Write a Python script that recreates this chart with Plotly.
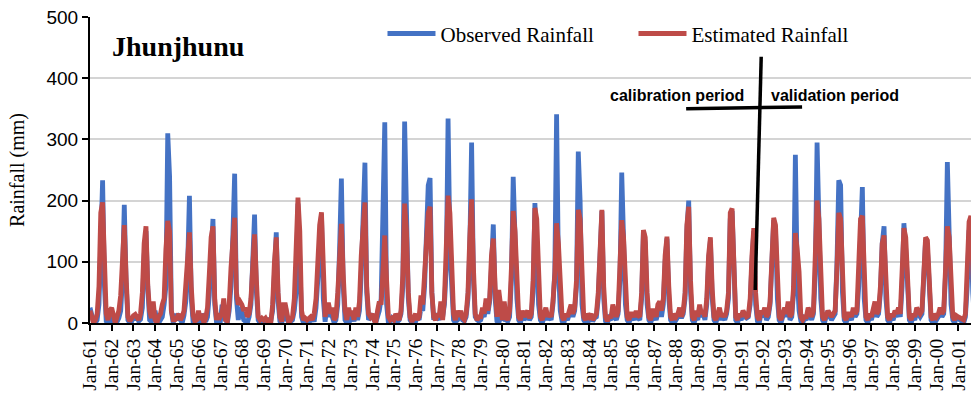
import pandas as pd
import plotly.graph_objects as go

# Monthly observed rainfall (mm), one row per year Jan..Dec, 1961-2001
observed = [
    25, 8, 2, 0, 5, 30, 150, 233, 60, 3, 0, 5,        # 1961
    3, 10, 0, 2, 8, 20, 70, 193, 65, 5, 0, 2,         # 1962
    10, 5, 12, 3, 6, 25, 110, 150, 55, 5, 2, 8,       # 1963
    20, 3, 0, 5, 10, 30, 60, 310, 240, 20, 0, 15,     # 1964
    5, 10, 3, 0, 12, 35, 90, 208, 40, 2, 0, 6,        # 1965
    3, 0, 15, 5, 2, 10, 45, 110, 170, 30, 0, 2,       # 1966
    0, 30, 10, 5, 0, 20, 60, 140, 244, 40, 5, 25,     # 1967
    20, 5, 3, 0, 10, 30, 100, 177, 50, 5, 0, 3,       # 1968
    2, 5, 0, 8, 3, 20, 80, 148, 35, 3, 0, 10,         # 1969
    28, 5, 0, 2, 5, 20, 50, 195, 120, 10, 0, 5,       # 1970
    3, 0, 5, 10, 2, 25, 70, 120, 178, 40, 2, 25,      # 1971
    10, 20, 8, 0, 5, 30, 120, 236, 60, 5, 0, 10,      # 1972
    5, 10, 3, 15, 5, 20, 80, 150, 262, 50, 5, 10,     # 1973
    15, 5, 0, 10, 20, 40, 150, 328, 30, 0, 2, 8,      # 1974
    5, 10, 2, 5, 15, 60, 329, 160, 40, 5, 0, 3,       # 1975
    2, 10, 5, 25, 20, 60, 130, 225, 237, 50, 5, 15,   # 1976
    10, 5, 20, 10, 30, 90, 334, 127, 60, 5, 0, 15,    # 1977
    8, 12, 5, 3, 10, 40, 120, 295, 70, 10, 5, 3,      # 1978
    5, 15, 10, 30, 15, 35, 90, 161, 40, 3, 0, 10,     # 1979
    8, 20, 5, 3, 10, 70, 239, 110, 40, 5, 0, 15,      # 1980
    5, 10, 15, 5, 10, 50, 196, 130, 30, 5, 0, 8,      # 1981
    20, 5, 10, 5, 30, 84, 341, 90, 20, 3, 0, 10,      # 1982
    5, 15, 20, 10, 20, 60, 280, 200, 30, 5, 0, 10,    # 1983
    5, 10, 3, 8, 10, 40, 110, 183, 40, 3, 0, 8,       # 1984
    5, 20, 10, 5, 15, 70, 246, 90, 30, 5, 0, 10,      # 1985
    10, 5, 15, 8, 5, 40, 150, 130, 30, 5, 0, 10,      # 1986
    12, 5, 20, 30, 10, 30, 100, 138, 40, 5, 0, 10,    # 1987
    5, 10, 20, 8, 15, 40, 150, 200, 50, 5, 0, 10,     # 1988
    5, 25, 10, 15, 5, 30, 100, 135, 40, 5, 0, 10,     # 1989
    20, 5, 10, 5, 15, 40, 170, 183, 60, 5, 0, 10,     # 1990
    5, 15, 10, 8, 10, 30, 100, 150, 30, 3, 0, 15,     # 1991
    10, 20, 5, 10, 30, 90, 168, 150, 40, 5, 0, 10,    # 1992
    20, 10, 30, 5, 10, 50, 275, 75, 20, 3, 0, 8,      # 1993
    5, 20, 10, 5, 15, 80, 295, 180, 40, 5, 0, 10,     # 1994
    20, 10, 5, 10, 15, 100, 233, 225, 50, 5, 0, 10,   # 1995
    10, 5, 20, 10, 15, 60, 172, 222, 40, 5, 0, 10,    # 1996
    5, 15, 30, 10, 15, 50, 130, 158, 40, 5, 0, 10,    # 1997
    5, 15, 10, 20, 10, 60, 163, 120, 50, 5, 0, 10,    # 1998
    5, 20, 15, 10, 15, 80, 135, 120, 40, 5, 0, 10,    # 1999
    5, 10, 20, 10, 15, 80, 263, 100, 30, 5, 0, 10,    # 2000
    8, 5, 3, 0, 10, 60, 150, 160, 50, 5, 0, 5,        # 2001
]

# Monthly estimated rainfall (mm)
estimated = [
    20, 10, 0, 5, 15, 60, 180, 197, 70, 15, 5, 20,    # 1961
    25, 5, 0, 10, 20, 45, 110, 160, 75, 10, 3, 8,     # 1962
    12, 14, 10, 5, 15, 50, 130, 158, 60, 20, 8, 35,   # 1963
    5, 0, 10, 15, 30, 40, 120, 167, 150, 20, 5, 5,    # 1964
    8, 15, 5, 10, 20, 60, 120, 148, 60, 12, 3, 5,     # 1965
    20, 5, 15, 0, 8, 25, 80, 140, 158, 40, 5, 15,     # 1966
    10, 15, 40, 5, 3, 30, 90, 150, 172, 50, 30, 35,   # 1967
    30, 20, 25, 10, 15, 40, 110, 145, 70, 10, 5, 8,   # 1968
    5, 8, 3, 5, 0, 30, 100, 140, 50, 10, 2, 30,       # 1969
    30, 10, 0, 5, 10, 40, 120, 205, 150, 20, 5, 8,    # 1970
    5, 8, 10, 5, 15, 40, 100, 160, 181, 60, 10, 30,   # 1971
    30, 15, 25, 5, 10, 50, 130, 162, 80, 20, 5, 25,   # 1972
    12, 20, 5, 25, 10, 35, 110, 170, 197, 60, 15, 10, # 1973
    15, 5, 0, 20, 35, 30, 90, 143, 70, 10, 5, 8,      # 1974
    5, 15, 10, 5, 20, 80, 195, 150, 50, 10, 2, 8,     # 1975
    15, 5, 10, 45, 30, 80, 150, 180, 190, 50, 10, 5,  # 1976
    15, 10, 35, 5, 40, 120, 208, 180, 80, 15, 5, 20,  # 1977
    10, 20, 8, 5, 15, 50, 140, 202, 90, 15, 5, 10,    # 1978
    10, 25, 15, 40, 20, 40, 110, 138, 60, 10, 54, 20, # 1979
    5, 35, 10, 5, 20, 90, 183, 150, 60, 10, 5, 20,    # 1980
    10, 15, 20, 8, 15, 70, 188, 170, 50, 10, 5, 15,   # 1981
    25, 10, 15, 10, 35, 80, 163, 130, 40, 10, 5, 15,  # 1982
    10, 25, 30, 15, 25, 70, 185, 170, 60, 10, 5, 15,  # 1983
    10, 15, 5, 10, 15, 50, 130, 185, 60, 10, 3, 12,   # 1984
    8, 30, 20, 10, 20, 80, 168, 140, 50, 10, 5, 15,   # 1985
    15, 10, 20, 12, 10, 50, 152, 140, 50, 10, 5, 20,  # 1986
    20, 10, 30, 35, 20, 40, 110, 141, 60, 10, 5, 15,  # 1987
    10, 15, 25, 10, 20, 50, 160, 190, 70, 10, 5, 20,  # 1988
    10, 30, 15, 20, 10, 40, 110, 140, 55, 10, 5, 15,  # 1989
    25, 10, 15, 10, 20, 50, 180, 187, 80, 10, 5, 15,  # 1990
    10, 20, 15, 10, 12, 40, 110, 155, 50, 10, 5, 20,  # 1991
    15, 25, 10, 15, 35, 100, 172, 160, 50, 10, 5, 15, # 1992
    25, 15, 35, 10, 15, 60, 147, 120, 84, 10, 5, 10,  # 1993
    10, 25, 15, 10, 20, 90, 200, 170, 60, 10, 5, 15,  # 1994
    20, 15, 10, 15, 20, 90, 180, 170, 60, 10, 5, 15,  # 1995
    15, 10, 25, 15, 20, 80, 170, 175, 60, 10, 5, 15,  # 1996
    10, 20, 35, 15, 20, 60, 130, 143, 50, 10, 5, 15,  # 1997
    10, 20, 15, 25, 15, 70, 155, 140, 50, 10, 5, 15,  # 1998
    10, 25, 20, 15, 20, 100, 140, 135, 50, 10, 5, 15, # 1999
    10, 15, 25, 15, 20, 90, 158, 140, 50, 10, 5, 12,  # 2000
    10, 8, 5, 5, 15, 80, 165, 175, 60, 10, 5, 8,      # 2001
]

months = pd.date_range("1961-01-01", periods=len(observed), freq="MS")

y_ticks = [0, 100, 200, 300, 400, 500]

fig = go.Figure()
fig.add_trace(go.Scatter(x=months, y=observed, mode="lines", name="Observed Rainfall",
                         line=dict(color="#4472C4", width=4.8)))
fig.add_trace(go.Scatter(x=months, y=estimated, mode="lines", name="Estimated Rainfall",
                         line=dict(color="#BE4B48", width=4.8)))

serif = "Liberation Serif, Times New Roman, serif"
sans = "Liberation Sans, Arial, sans-serif"

fig.update_layout(
    width=971, height=398,
    margin=dict(l=90, r=0, t=17, b=75, autoexpand=False),
    paper_bgcolor="white", plot_bgcolor="white",
    showlegend=True,
    legend=dict(orientation="h", x=0.332, y=0.945, xanchor="left", yanchor="middle",
                font=dict(family=serif, size=21, color="#000"),
                bgcolor="rgba(0,0,0,0)", entrywidth=188, entrywidthmode="pixels",
                itemwidth=48, tracegroupgap=0),
    xaxis=dict(range=["1961-01-01", "2001-08-03"], dtick="M12", tick0="1961-01-01",
               tickformat="%b-%y", tickangle=-90, showgrid=False, automargin=False,
               showline=True, linecolor="#000", linewidth=2,
               ticks="outside", ticklen=6, tickcolor="#000", tickwidth=1.5,
               tickfont=dict(family=serif, size=19.5, color="#000")),
    yaxis=dict(range=[0, 500], tickvals=y_ticks, showgrid=True, gridcolor="#D4D4D4", gridwidth=1.5,
               zeroline=False, showline=True, linecolor="#000", linewidth=2, automargin=False,
               ticks="outside", ticklen=6, tickcolor="#000", tickwidth=1.5,
               tickfont=dict(family=sans, size=19, color="#000"),
               title=dict(text="Rainfall (mm)", font=dict(family=serif, size=20, color="#000"),
                          standoff=16)),
)

fig.add_annotation(text="<b>Jhunjhunu</b>", xref="paper", yref="paper", x=0.1, y=0.905,
                   xanchor="center", yanchor="middle",
                   showarrow=False, font=dict(family=serif, size=28, color="#000"))
fig.add_annotation(text="<b>calibration period</b>", xref="paper", yref="paper", x=0.666, y=0.745,
                   xanchor="center", yanchor="middle",
                   showarrow=False, font=dict(family=sans, size=16, color="#000"))
fig.add_annotation(text="<b>validation period</b>", xref="paper", yref="paper", x=0.846, y=0.745,
                   xanchor="center", yanchor="middle",
                   showarrow=False, font=dict(family=sans, size=16, color="#000"))

# divider cross between calibration and validation periods
fig.add_shape(type="line", xref="x", yref="y", x0="1991-12-04", y0=435, x1="1991-08-25", y1=54,
              line=dict(color="#000", width=3.5))
fig.add_shape(type="line", xref="x", yref="y", x0="1988-06-19", y0=350, x1="1993-10-22", y1=353,
              line=dict(color="#000", width=3.5))

fig.write_html("out.html", config={"displayModeBar": False},
               post_script="document.body.style.margin='0';document.body.style.padding='0';")
